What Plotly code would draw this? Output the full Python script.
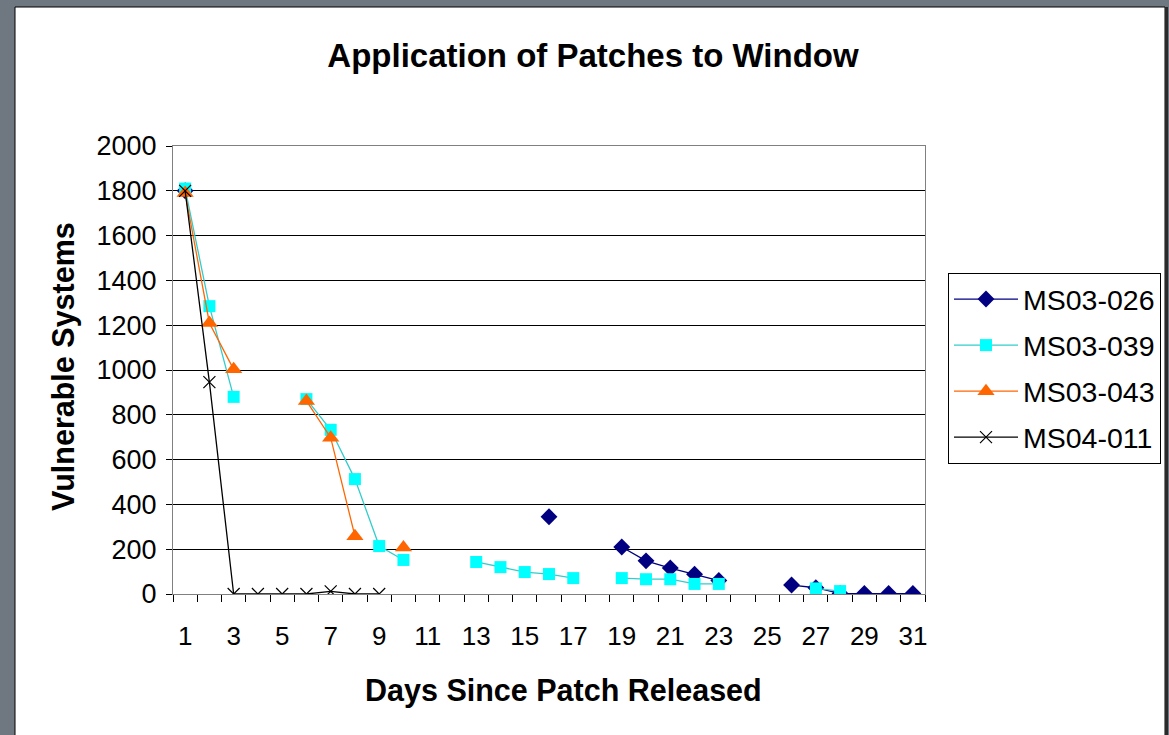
import plotly.graph_objects as go

days = list(range(1, 32))

ms03_026 = {1: 1800, 16: 345, 19: 210, 20: 148, 21: 116, 22: 88, 23: 60,
            26: 40, 27: 28, 28: 2, 29: 2, 30: 2, 31: 2}
ms03_039 = {1: 1810, 2: 1285, 3: 880, 6: 870, 7: 733, 8: 513, 9: 214, 10: 152,
            13: 143, 14: 120, 15: 98, 16: 89, 17: 71, 19: 71, 20: 66, 21: 66,
            22: 45, 23: 45, 27: 25, 28: 13}
ms03_043 = {1: 1790, 2: 1210, 3: 1003, 6: 862, 7: 698, 8: 258, 10: 208}
ms04_011 = {1: 1800, 2: 946, 3: 0, 4: 0, 5: 0, 6: 0, 7: 12, 8: 0, 9: 0}

series_names = ["MS03-026", "MS03-039", "MS03-043", "MS04-011"]
series_data = [ms03_026, ms03_039, ms03_043, ms04_011]
line_colors = ["#000080", "#33CCCC", "#FF6600", "#000000"]
marker_colors = ["#000080", "#00FFFF", "#FF6600", "#000000"]
symbols = ["diamond", "square", "triangle-up", "x-thin"]
sizes = [13, 12, 15, 12]

x_tick_vals = list(range(1, 32, 2))
y_tick_vals = list(range(0, 2001, 200))

fig = go.Figure()
for name, data, lc, mc, sym, sz in zip(series_names, series_data, line_colors,
                                       marker_colors, symbols, sizes):
    ys = [data.get(d) for d in days]
    marker = dict(symbol=sym, size=sz, color=mc)
    if sym == "x-thin":
        marker["line"] = dict(color=mc, width=1.2)
    else:
        marker["line"] = dict(width=0)
    fig.add_trace(go.Scatter(
        x=days, y=ys, name=name, mode="lines+markers",
        line=dict(color=lc, width=1.3), marker=marker,
        connectgaps=False, legendgroup=name,
    ))

fig.update_layout(
    width=1169, height=735,
    paper_bgcolor="#6f7880",
    plot_bgcolor="#C0C0C0",
    margin=dict(l=173, r=244, t=146, b=141, autoexpand=False),
    font=dict(family="Liberation Sans, Arial, sans-serif", color="#000000"),
    title=dict(text="<b>Application of Patches to Window</b>",
               x=593 / 1169, xanchor="center", xref="container",
               y=1 - 55 / 735, yanchor="middle", yref="container",
               font=dict(size=33, color="#000000")),
    showlegend=True,
    legend=dict(x=(948 - 173) / 752, xanchor="left", y=(594 - 273) / 448,
                yanchor="top", bgcolor="#FFFFFF", bordercolor="#000000",
                borderwidth=1, font=dict(size=28.5), tracegroupgap=6,
                itemwidth=64),
    shapes=[
        dict(type="rect", xref="paper", yref="paper",
             x0=(15 - 173) / 752, x1=(1165 - 173) / 752,
             y0=(594 - 745) / 448, y1=(594 - 7) / 448,
             fillcolor="#FFFFFF", line=dict(color="#000000", width=1),
             layer="below"),
        dict(type="line", xref="paper", yref="paper",
             x0=(1166.5 - 173) / 752, x1=(1166.5 - 173) / 752,
             y0=(594 - 745) / 448, y1=(594 - 7) / 448,
             line=dict(color="#2a2a2a", width=3), layer="below"),
    ],
    annotations=[
        dict(text="<b>Vulnerable Systems</b>", textangle=-90,
             xref="paper", yref="paper", x=(63 - 173) / 752, y=(594 - 367) / 448,
             xanchor="center", yanchor="middle", showarrow=False,
             font=dict(size=30.5, color="#000000")),
        dict(text="<b>Days Since Patch Released</b>",
             xref="paper", yref="paper", x=(363 - 173) / 752, y=(594 - 690) / 448,
             xanchor="left", yanchor="middle", showarrow=False,
             font=dict(size=30.5, color="#000000")),
    ],
)

fig.update_xaxes(
    range=[0.5, 31.5], tickmode="array", tickvals=x_tick_vals,
    ticktext=[str(v) for v in x_tick_vals],
    ticks="", showgrid=False, zeroline=False,
    showline=True, linecolor="#808080", linewidth=1, mirror=True,
    tickfont=dict(size=26, color="#000000"), ticklabelstandoff=19,
    minor=dict(tickmode="linear", tick0=0.5, dtick=1, ticks="outside",
               ticklen=7, tickcolor="#000000", tickwidth=1, showgrid=False),
)
fig.update_yaxes(
    range=[0, 2000], tickmode="array", tickvals=y_tick_vals,
    ticks="outside", ticklen=6, tickcolor="#000000", tickwidth=1,
    showgrid=True, gridcolor="#000000", gridwidth=1, zeroline=False,
    showline=True, linecolor="#808080", linewidth=1, mirror=True,
    tickfont=dict(size=27, color="#000000"), ticklabelstandoff=4,
)

fig.write_html("out.html", config={"displayModeBar": False},
               post_script="document.body.style.margin='0px';document.body.style.overflow='hidden';")
